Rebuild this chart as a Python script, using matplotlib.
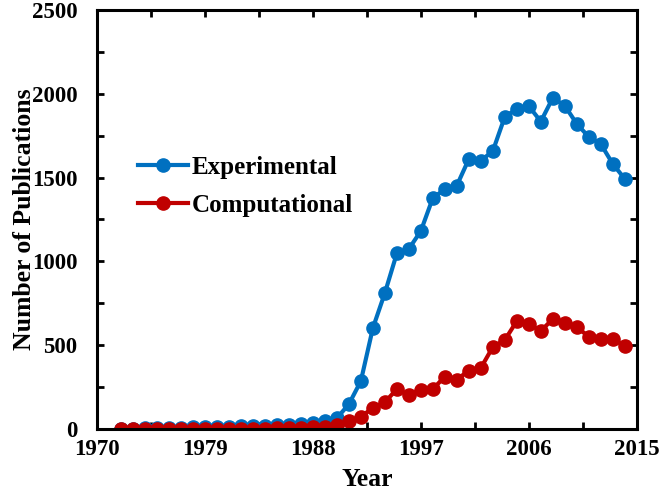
import matplotlib
matplotlib.use('Agg')
import matplotlib.pyplot as plt
from matplotlib.ticker import MultipleLocator

years = list(range(1972, 2015))

experimental = [3, 3, 4, 5, 6, 8, 10, 12, 14, 15, 17, 18, 20, 22, 25, 30, 35, 45, 65,
                148, 286, 602, 811, 1048, 1074, 1181, 1378, 1430, 1452, 1610, 1600, 1658,
                1862, 1909, 1926, 1834, 1975, 1928, 1820, 1742, 1700, 1581, 1492]

computational = [2, 2, 2, 2, 2, 2, 2, 2, 2, 2, 2, 2, 3, 4, 5, 7, 10, 15, 25,
                 45, 74, 125, 160, 238, 203, 234, 238, 313, 295, 349, 364, 489,
                 531, 644, 626, 585, 656, 632, 610, 549, 537, 537, 495]

plt.rcParams['font.family'] = 'Liberation Serif'
plt.rcParams['font.weight'] = 'bold'

fig = plt.figure(figsize=(6.64, 4.92), dpi=100)
ax = fig.add_axes([0.146, 0.128, 0.813, 0.852])

ax.plot(years, experimental, '-o', color='#0070C0', linewidth=3, markersize=9.5,
        label='Experimental')
ax.plot(years, computational, '-o', color='#C00000', linewidth=3, markersize=9.5,
        label='Computational')

ax.set_xlim(1970, 2015)
ax.set_ylim(0, 2500)
ax.xaxis.set_major_locator(MultipleLocator(9, offset=1970))
ax.xaxis.set_minor_locator(MultipleLocator(4.5, offset=1970))
ax.yaxis.set_major_locator(MultipleLocator(500))
ax.yaxis.set_minor_locator(MultipleLocator(250))

for s in ax.spines.values():
    s.set_linewidth(2.2)
ax.tick_params(which='both', direction='in', top=True, right=True, width=2, length=5,
               labelsize=16.5)
ax.tick_params(axis='x', pad=7)
ax.tick_params(axis='y', pad=14)

ax.set_xlabel('Year', fontsize=18.5, fontweight='bold', labelpad=6)
ax.set_ylabel('Number of Publications', fontsize=18.5, fontweight='bold')
ax.yaxis.set_label_coords(-0.113, 0.5)

ax.legend(loc='center left', bbox_to_anchor=(0.076, 0.578), frameon=False, fontsize=18,
          handlelength=2.0, handletextpad=0.16, labelspacing=0.6, borderpad=0,
          borderaxespad=0)

plt.savefig('out.png', dpi=100)
